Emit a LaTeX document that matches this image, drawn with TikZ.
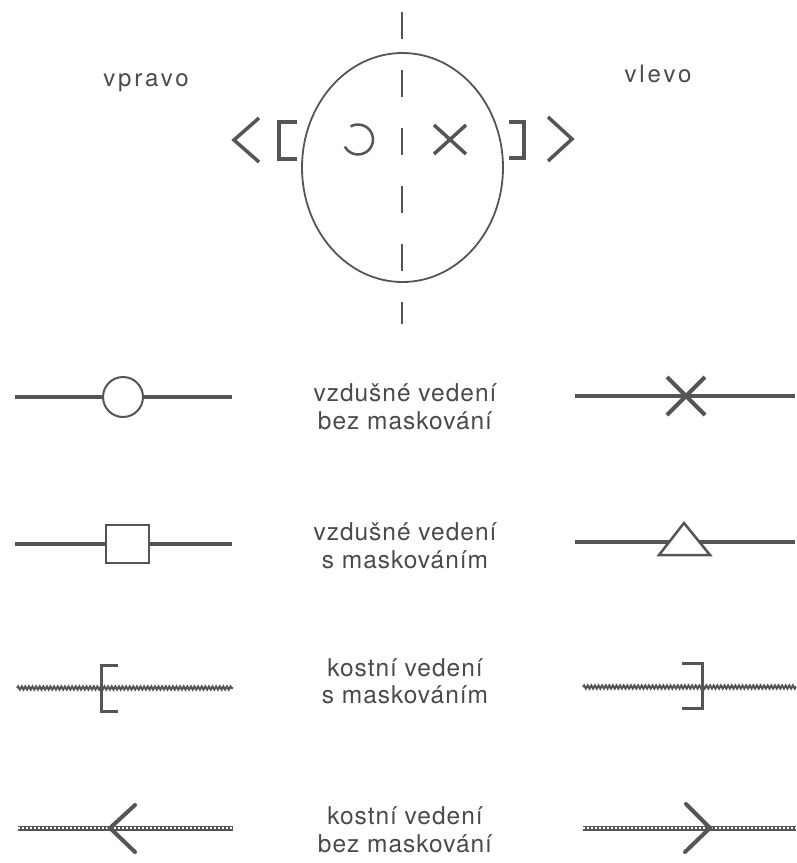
\documentclass[tikz,border=0pt]{standalone}
\usepackage{fontspec}
\setmainfont{TeX Gyre Heros}
\usetikzlibrary{decorations.pathmorphing}
\definecolor{ink}{HTML}{555555}
\definecolor{inktext}{HTML}{4A4A4A}
\begin{document}
\begin{tikzpicture}[x=1pt,y=-1pt,
  lbl/.style={font=\fontsize{24.5}{28}\selectfont\addfontfeature{LetterSpace=4}, text=inktext, inner sep=0pt, anchor=base},
  toplbl/.style={font=\fontsize{24}{28}\selectfont\addfontfeature{LetterSpace=12}, text=inktext, inner sep=0pt, anchor=base},
  air/.style={draw=ink, line width=4pt},
  sym/.style={draw=ink, line width=3.5pt},
  thinsym/.style={draw=ink, line width=2pt},
  bone/.style={draw=ink, line width=2pt, decorate, decoration={snake, amplitude=1.6pt, segment length=3.6pt}},
  bead/.style={draw=ink, line width=5pt},
  beadin/.style={draw=white, line width=1.8pt, dash pattern=on 1.6pt off 2.4pt},
]
\fill[white] (0,0) rectangle (796,863);
\useasboundingbox (0,0) rectangle (796,863);

% ---- top: head scheme ----
\node[toplbl] (vpravo) at (146,86) {vpravo};
\node[toplbl] (vlevo) at (658,82) {vlevo};
\draw[draw=ink, line width=1.8pt] (402.5,167.5) ellipse [x radius=100.5, y radius=114.5];
\draw[draw=ink, line width=2.5pt, dash pattern=on 27pt off 31pt] (402,12) -- (402,324);
\draw[sym] (259,118) -- (234,140) -- (259,162);
\draw[sym] (297,122) -- (279,122) -- (279,159) -- (297,159);
\draw[draw=ink, line width=2.5pt] ([shift={(-119:15)}]358,139.5) arc[start angle=-119, end angle=152, radius=15];
\draw[sym] (434,125) -- (466,154) (434,154) -- (466,125);
\draw[sym] (509,122) -- (524,122) -- (524,158) -- (509,158);
\draw[sym] (548,117) -- (572,139) -- (548,161);

% ---- row 1: vzdusne vedeni bez maskovani ----
\coordinate (a1l) at (15,397);
\coordinate (a1r) at (232,397);
\node[circle, thinsym, minimum size=40pt, inner sep=0pt] (c1) at (123,397) {};
\draw[air] (a1l) -- (c1.west);
\draw[air] (c1.east) -- (a1r);
\node[lbl] (t1a) at (405,401) {vzdušné vedení};
\node[lbl] (t1b) at (405,429) {bez maskování};
\coordinate (b1l) at (575,396);
\coordinate (b1r) at (795,396);
\draw[air] (b1l) -- (b1r);
\draw[sym, line width=4pt] (667,377) -- (705,415) (705,377) -- (667,415);

% ---- row 2: vzdusne vedeni s maskovanim ----
\coordinate (a2l) at (15,544);
\coordinate (a2r) at (232,544);
\node[rectangle, thinsym, minimum width=43pt, minimum height=38pt, inner sep=0pt] (s2) at (127,544) {};
\draw[air] (a2l) -- (s2.west);
\draw[air] (s2.east) -- (a2r);
\node[lbl] (t2a) at (405,540) {vzdušné vedení};
\node[lbl] (t2b) at (405,568) {s maskováním};
\coordinate (b2l) at (575,542);
\coordinate (b2r) at (795,542);
\draw[air] (b2l) -- (b2r);
\draw[draw=ink, line width=2.5pt, fill=white, line join=miter] (684,523) -- (710,555) -- (659,555) -- cycle;

% ---- row 3: kostni vedeni s maskovanim ----
\coordinate (a3l) at (17,688);
\coordinate (a3r) at (233,688);
\draw[bone] (a3l) -- (a3r);
\draw[sym, line width=3pt] (118,665) -- (101,665) -- (101,711) -- (118,711);
\node[lbl] (t3a) at (405,676) {kostní vedení};
\node[lbl] (t3b) at (405,703) {s maskováním};
\coordinate (b3l) at (583,687);
\coordinate (b3r) at (796,687);
\draw[bone] (b3l) -- (b3r);
\draw[sym, line width=3pt] (682,663) -- (702,663) -- (702,708) -- (682,708);

% ---- row 4: kostni vedeni bez maskovani ----
\coordinate (a4l) at (18,828);
\coordinate (a4r) at (233,828);
\draw[bead] (a4l) -- (a4r);
\draw[beadin] (a4l) -- (a4r);
\draw[sym, line width=4pt, line cap=round] (135,805) -- (110,828) -- (135,852);
\node[lbl] (t4a) at (405,824) {kostní vedení};
\node[lbl] (t4b) at (405,852) {bez maskování};
\coordinate (b4l) at (583,828);
\coordinate (b4r) at (796,828);
\draw[bead] (b4l) -- (b4r);
\draw[beadin] (b4l) -- (b4r);
\draw[sym, line width=4pt, line cap=round] (686,804) -- (710,828) -- (685,852);
\end{tikzpicture}
\end{document}
